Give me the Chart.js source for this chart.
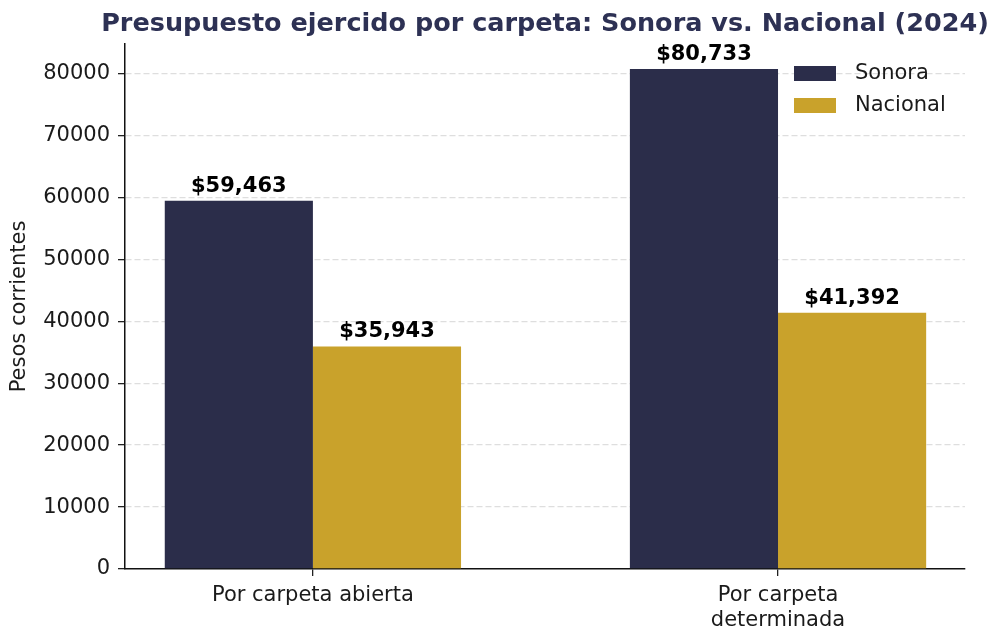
<!DOCTYPE html>
<html>
<head>
<meta charset="utf-8">
<script src="https://cdn.jsdelivr.net/npm/chart.js@4.4.1/dist/chart.umd.min.js"></script>
<style>
html,body{margin:0;padding:0;background:#fff;}
#wrap{width:990px;height:630px;}
</style>
</head>
<body>
<div id="wrap"><canvas id="c" width="990" height="630"></canvas></div>
<script>
const categories = ['Por carpeta abierta', ['Por carpeta', 'determinada']];
const seriesNames = ['Sonora', 'Nacional'];
const sonora = [59463, 80733];
const nacional = [35943, 41392];
const yTicks = [0, 10000, 20000, 30000, 40000, 50000, 60000, 70000, 80000];
const titleText = 'Presupuesto ejercido por carpeta: Sonora vs. Nacional (2024)';
const yTitle = 'Pesos corrientes';

const colors = ['#2b2d4a', '#c9a22b'];
const FONT = "'DejaVu Sans', sans-serif";

function fmt(v){ return '$' + v.toLocaleString('en-US'); }

const toPoints = arr => arr.map((v, i) => ({x: i, y: v}));

const labelsPlugin = {
  id: 'barLabels',
  afterDatasetsDraw(chart) {
    const ctx = chart.ctx;
    ctx.save();
    ctx.font = "bold 21px " + FONT;
    ctx.fillStyle = '#000';
    ctx.textAlign = 'center';
    ctx.textBaseline = 'alphabetic';
    chart.data.datasets.forEach((ds, di) => {
      const meta = chart.getDatasetMeta(di);
      meta.data.forEach((bar, i) => {
        ctx.fillText(fmt(ds.data[i].y), bar.x, bar.y - 9);
      });
    });
    ctx.restore();
  }
};

const titleLegendPlugin = {
  id: 'titleLegend',
  afterDraw(chart) {
    const ctx = chart.ctx;
    const ca = chart.chartArea;
    ctx.save();
    ctx.font = "bold 25.5px " + FONT;
    ctx.fillStyle = '#2d3154';
    ctx.textAlign = 'center';
    ctx.textBaseline = 'alphabetic';
    ctx.fillText(titleText, (ca.left + ca.right) / 2, 31);
    // legend
    ctx.font = "21px " + FONT;
    ctx.textAlign = 'left';
    ctx.textBaseline = 'middle';
    chart.data.datasets.forEach((ds, i) => {
      const y = 74 + i * 32;
      ctx.fillStyle = ds.backgroundColor;
      ctx.fillRect(794, y - 8, 42, 15);
      ctx.fillStyle = '#1a1a1a';
      ctx.fillText(ds.label, 855, y);
    });
    ctx.restore();
  }
};

new Chart(document.getElementById('c'), {
  type: 'bar',
  data: {
    datasets: [
      {label: seriesNames[0], data: toPoints(sonora), backgroundColor: colors[0], borderWidth: 0},
      {label: seriesNames[1], data: toPoints(nacional), backgroundColor: colors[1], borderWidth: 0}
    ]
  },
  options: {
    responsive: false,
    animation: false,
    devicePixelRatio: 1,
    layout: {padding: {top: 44, right: 25, left: 0, bottom: 0}},
    barPercentage: 1,
    categoryPercentage: 0.637,
    plugins: {
      legend: {display: false},
      title: {display: false},
      tooltip: {enabled: false}
    },
    scales: {
      x: {
        type: 'linear',
        min: -0.404,
        max: 1.402,
        offset: false,
        afterBuildTicks(s) { s.ticks = categories.map((c, i) => ({value: i})); },
        afterFit(s) { s.height = 61; },
        ticks: {
          callback: (v) => categories[v],
          font: {family: FONT, size: 21},
          color: '#1a1a1a',
          padding: 7,
          maxRotation: 0,
          autoSkip: false
        },
        grid: {offset: false, drawOnChartArea: false, drawTicks: true, tickLength: 7, color: '#222', tickColor: '#222', lineWidth: 1.3},
        border: {display: true, color: '#111', width: 1.5}
      },
      y: {
        type: 'linear',
        min: 0,
        max: 84770,
        afterBuildTicks(s) { s.ticks = yTicks.map(v => ({value: v})); },
        afterFit(s) { s.width = 125; },
        ticks: {
          callback: (v) => String(v),
          font: {family: FONT, size: 21},
          color: '#1a1a1a',
          padding: 8
        },
        title: {
          display: true,
          text: yTitle,
          font: {family: FONT, size: 21},
          color: '#1a1a1a',
          padding: {top: 7, bottom: 0}
        },
        grid: {
          drawOnChartArea: true,
          drawTicks: true,
          tickLength: 7,
          color: (c) => c.tick && c.tick.value === 0 ? 'rgba(0,0,0,0)' : '#dedede',
          lineWidth: 1.3,
          tickColor: '#222',
          tickWidth: 1.3,
          tickBorderDash: []
        },
        border: {display: true, color: '#111', width: 1.5, dash: [6, 3]}
      }
    }
  },
  plugins: [labelsPlugin, titleLegendPlugin]
});
</script>
</body>
</html>
